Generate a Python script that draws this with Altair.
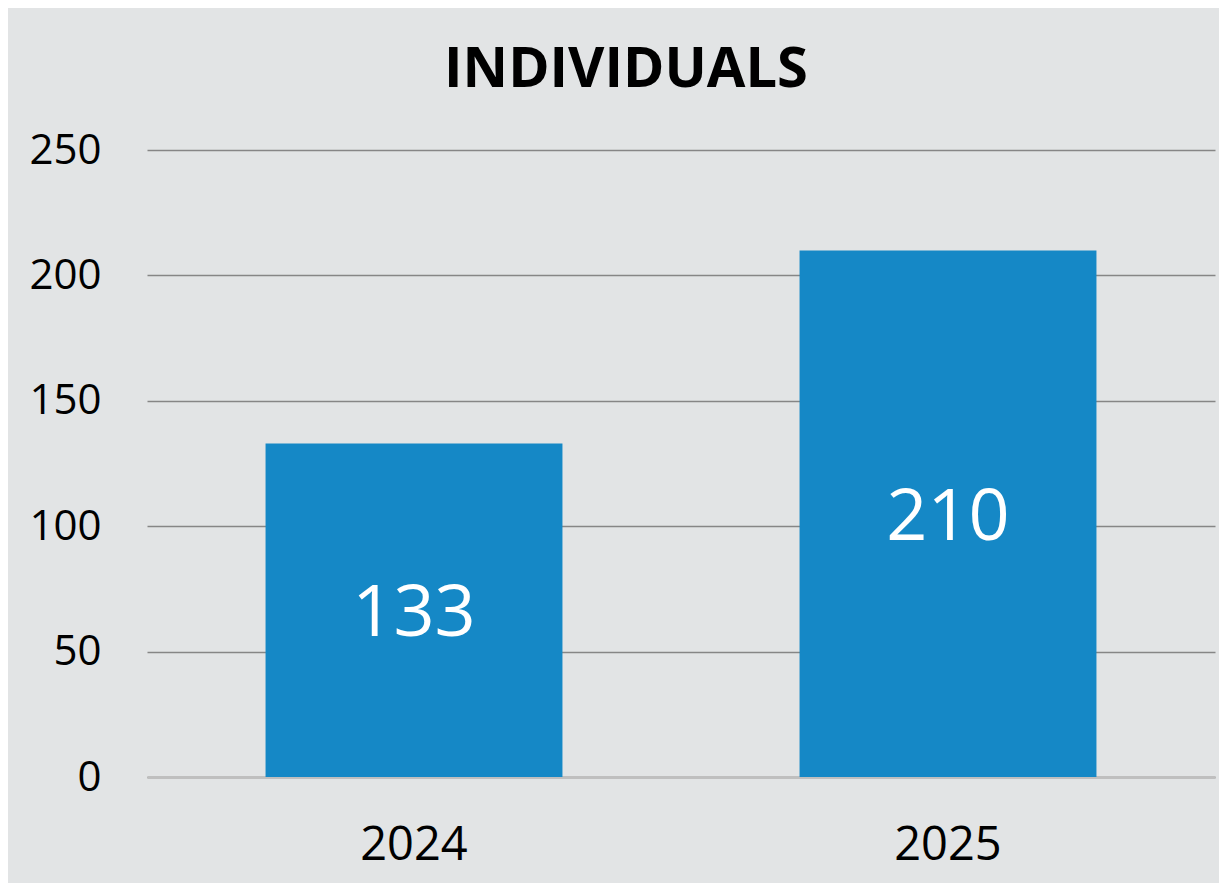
import altair as alt
import pandas as pd

years = ["2024", "2025"]
values = [133, 210]
title_text = "INDIVIDUALS"
y_ticks = [0, 50, 100, 150, 200, 250]

df = pd.DataFrame({"year": years, "value": values})

FONT = "Open Sans"

base = alt.Chart(df).encode(
    x=alt.X(
        "year:N",
        sort=years,
        scale=alt.Scale(paddingInner=0.444, paddingOuter=0.222),
        axis=alt.Axis(
            title=None, labelAngle=0, labelFontSize=47, labelFont=FONT,
            labelColor="#000000", ticks=False, domain=True,
            domainColor="#BFBFBF", domainWidth=3, labelPadding=45, grid=False,
        ),
    )
)

bars = base.mark_bar(color="#1588C6").encode(
    y=alt.Y(
        "value:Q",
        scale=alt.Scale(domain=[0, 250]),
        axis=alt.Axis(
            title=None, values=y_ticks, labelFontSize=42, labelFont=FONT,
            labelColor="#000000", ticks=False, domain=False,
            gridColor="#868686", gridWidth=1.5, labelPadding=46,
        ),
    )
)

labels = base.transform_calculate(mid="datum.value / 2").mark_text(
    color="white", fontSize=72, font=FONT, baseline="middle", align="center", dy=4
).encode(
    y=alt.Y("mid:Q"),
    text=alt.Text("value:Q"),
)

chart = (
    alt.layer(bars, labels)
    .properties(
        width=1068,
        height=652,
        autosize=alt.AutoSizeParams(type="none"),
        padding={"left": 139, "top": 117, "right": 4, "bottom": 106},
        background="#E2E4E5",
        title=alt.TitleParams(
            title_text, fontSize=56, font=FONT, fontWeight="bold",
            color="#000000", anchor="middle", offset=26, dx=-55,
        ),
    )
    .configure_view(stroke=None)
)

chart.save("out.html", embed_options={"renderer": "svg", "actions": False})
